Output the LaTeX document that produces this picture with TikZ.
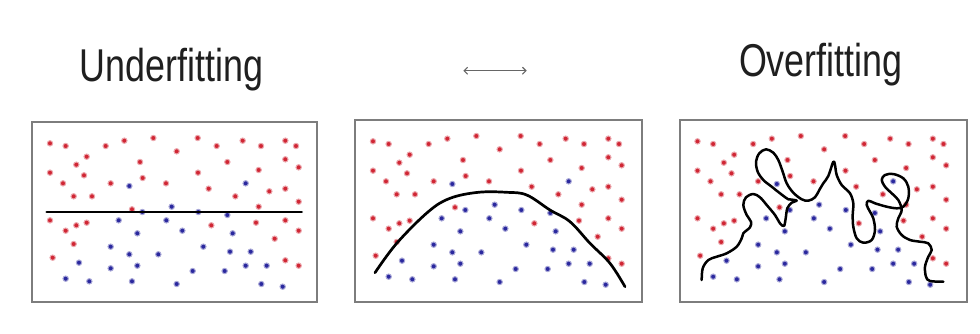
\documentclass[tikz,border=0pt]{standalone}
\usepackage{graphicx}
\usepackage{fontspec}
\setmainfont{Liberation Sans}
\usetikzlibrary{arrows.meta}
\definecolor{dotred}{RGB}{208,38,52}
\definecolor{dotblue}{RGB}{42,40,158}
\definecolor{framegray}{RGB}{125,125,125}
\tikzset{
  panelbox/.style={draw=framegray,line width=1.4},
  fitline/.style={draw=black,line width=2.7,line cap=round,line join=round},
  reddot/.style={fill=dotred,draw=dotred!40,line width=1},
  bluedot/.style={fill=dotblue,draw=dotblue!40,line width=1},
  titletext/.style={font=\fontsize{46}{50}\selectfont,anchor=base,inner sep=0,text=black!88},
}
\def\reddots{60/85,107/93,227/93,283/77,370/69,503/69,560/93,638/77,693/93,766/77,798/93,
170/125,440/109,139/149,330/141,592/141,766/133,806/157,
60/173,162/181,504/173,686/165,
99/205,242/205,338/189,408/205,536/221,718/229,766/221,
131/244,186/244,616/244,806/260,
306/283,686/275,
60/316,139/331,170/323,107/347,544/331,678/323,766/316,806/347,
131/387,734/371,
68/428,766/436,806/452}
\def\bluedots{298/213,647/205,
425/275,337/291,505/291,592/300,
266/316,409/316,
322/355,457/347,608/355,
242/395,520/395,
298/418,385/418,600/410,662/410,
147/443,322/452,647/452,710/452,
242/460,488/468,584/468,
107/491,178/499,306/499,440/507,694/507,758/515}
\newcommand{\drawdots}[2]{%
  \foreach \px/\py in \reddots {\fill[reddot] ({#1+\px/3},{#2+\py/3}) circle[radius=2.7];}
  \foreach \px/\py in \bluedots {\fill[bluedot] ({#1+\px/3},{#2+\py/3}) circle[radius=2.7];}
}
\begin{document}
\begin{tikzpicture}[x=1pt,y=-1pt]
\path[use as bounding box,fill=white] (0,0) rectangle (980,333);

% titles
\node[titletext] (under) at (171.7,81) {\scalebox{0.78}[1]{Underfitting}};
\node[titletext] (over) at (820.8,76) {\scalebox{0.78}[1]{Overfitting}};
\coordinate (arrL) at (463.3,70.7);
\coordinate (arrR) at (526.7,70.7);
\draw[{Straight Barb[length=3.5,width=7]}-{Straight Barb[length=3.5,width=7]},line width=1.1,draw=black!60] (arrL) -- (arrR);

% panels
\draw[panelbox] (32,122) rectangle (317,302);
\draw[panelbox] (355,120) rectangle (642,302);
\draw[panelbox] (680,120) rectangle (967,302);

\drawdots{30}{115}
\drawdots{353}{113}
\drawdots{677.5}{113}

% underfitting line
\coordinate (u1) at (46.7,212);
\coordinate (u2) at (301.7,212);
\draw[fitline] (u1) -- (u2);

% good fit
\draw[fitline] plot[smooth,tension=0.6] coordinates {
 (375,272.7) (396.7,243.3) (428.3,211.7) (450,198.3) (478.3,192.3) (506.7,192.3)
 (526.7,195) (550,210) (570,221.7) (590,243.3) (610,263.3) (625,286.7)};

% overfitting
\draw[fitline,line width=2.5] plot[smooth,tension=0.55] coordinates {
 (701.7,280) (702.7,268.3) (708.3,260) (716.7,256.7) (726.7,253.3) (736.7,246.7)
 (741.7,238.3) (743.3,233.3) (750,227.3) (751,221.7) (746.7,215) (743.3,205)
 (746,197.3) (753.3,194) (760,197.3) (766.7,205) (775,215) (780,223.3) (784,226)
 (785.7,218.3) (787.3,208.3) (791.7,202.7) (796.7,200.7) (791.7,199.6) (788.3,199.3)
 (780,193.3) (771.7,186.7) (763.3,180) (757.7,171.7) (756,161.7) (759.3,153.3)
 (766,149.3) (773.3,152.7) (778.3,160) (782.7,171.7) (786.7,183.3) (793.3,192.7)
 (801.7,199.3) (808.3,200.7) (815,197.3) (819.3,190) (823.3,183.3) (828.3,176)
 (833.3,161.7) (835,165) (836.7,175) (841.7,185) (850,193.3) (853.3,203.3)
 (852.7,215) (853.3,226.7) (856.7,238.3) (863.3,242.7) (871.7,240) (875,230)
 (873.3,218.3) (870,211.7) (866.7,205) (868.3,200.7) (875,203.3) (886.7,206.7)
 (896.7,208.3) (903.3,206.7) (908.3,198.3) (908.3,186.7) (903.3,178.3) (893.3,174)
 (885,175) (881.7,180) (885,186.7) (891.7,193.3) (898.3,200) (901.7,210)
 (898.3,218.3) (896.7,226.7) (901.7,235) (910,240) (920,241.7) (928.3,243.3)
 (931.7,250) (928.3,256.7) (925,266.7) (926,276.7) (930,281) (943.3,281.7)};
\end{tikzpicture}
\end{document}
